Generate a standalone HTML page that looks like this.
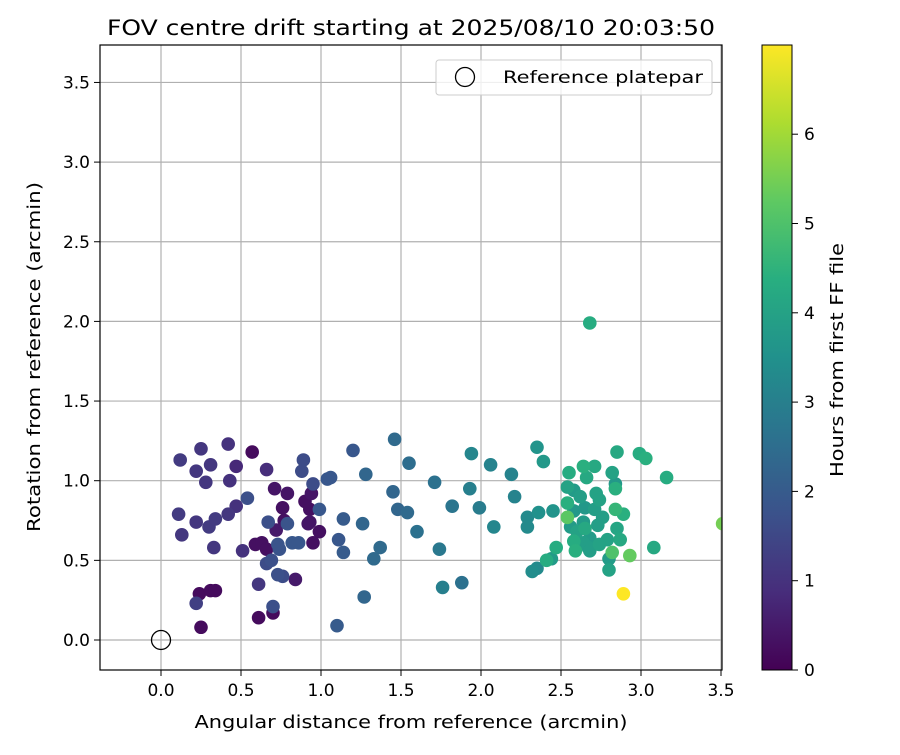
<!DOCTYPE html>
<html><head><meta charset="utf-8"><style>
body{margin:0;background:#fff;}
svg text{font-family:"DejaVu Sans","Liberation Sans",sans-serif;}
</style></head><body>
<svg id="chart" width="900" height="750" xmlns="http://www.w3.org/2000/svg">
<defs><linearGradient id="vir" x1="0" y1="1" x2="0" y2="0">
<stop offset="0" stop-color="#440154"/><stop offset="0.125" stop-color="#472d7b"/><stop offset="0.25" stop-color="#3b528b"/><stop offset="0.375" stop-color="#2c728e"/><stop offset="0.5" stop-color="#21918c"/><stop offset="0.625" stop-color="#28ae80"/><stop offset="0.75" stop-color="#5ec962"/><stop offset="0.875" stop-color="#addc30"/><stop offset="1" stop-color="#fde725"/></linearGradient>
<clipPath id="pc"><rect x="100" y="45" width="622" height="625"/></clipPath></defs>
<text x="411" y="35" font-size="21" text-anchor="middle" textLength="608" lengthAdjust="spacingAndGlyphs">FOV centre drift starting at 2025/08/10 20:03:50</text>
<g id="grid"></g>
<g id="pts" clip-path="url(#pc)"></g>
<circle cx="161" cy="640" r="9.5" fill="none" stroke="#000" stroke-width="1.3"/>
<rect x="100" y="45" width="622" height="625" fill="none" stroke="#000" stroke-width="1.2"/>
<g id="ticks"></g>
<text x="411" y="728" font-size="18" text-anchor="middle" textLength="433" lengthAdjust="spacingAndGlyphs">Angular distance from reference (arcmin)</text>
<text transform="translate(40,357) rotate(-90)" font-size="18" text-anchor="middle" textLength="350" lengthAdjust="spacingAndGlyphs">Rotation from reference (arcmin)</text>
<g>
<rect x="436" y="60" width="276" height="35" rx="3" fill="#fff" fill-opacity="0.8" stroke="#ccc"/>
<circle cx="465" cy="77" r="9.5" fill="none" stroke="#000" stroke-width="1.3"/>
<text x="503" y="83" font-size="17" textLength="200" lengthAdjust="spacingAndGlyphs">Reference platepar</text>
</g>
<rect x="762" y="45" width="30" height="625" fill="url(#vir)" stroke="#000" stroke-width="1"/>
<g id="cticks"></g>
<text transform="translate(843,360) rotate(-90)" font-size="18" text-anchor="middle" textLength="234" lengthAdjust="spacingAndGlyphs">Hours from first FF file</text>
</svg>
<script>
const xTicks=[0,0.5,1,1.5,2,2.5,3,3.5];
const yTicks=[0,0.5,1,1.5,2,2.5,3,3.5];
const cTicks=[0,1,2,3,4,5,6];
const xs=[0.12,0.25,0.42,0.57,0.22,0.31,0.47,0.28,0.43,0.66,0.89,0.88,0.71,0.79,0.95,1.04,0.11,0.22,0.30,0.34,0.42,0.47,0.54,0.13,0.33,0.51,0.59,0.63,0.66,0.67,0.72,0.77,0.76,0.94,0.90,0.93,0.93,0.99,0.95,0.99,0.82,0.86,0.73,0.69,0.66,0.73,0.76,0.84,0.61,0.24,0.31,0.34,0.22,0.25,0.61,0.70,0.70,1.11,1.14,1.14,1.10,1.20,1.06,0.79,0.74,0.92,
1.46,1.28,1.55,1.45,1.48,1.54,1.26,1.60,1.71,1.37,1.33,1.74,1.27,1.76,1.88,1.82,1.94,1.93,1.99,2.08,2.06,2.19,2.21,2.29,2.29,2.36,2.35,2.39,2.32,2.35,
2.85,2.99,3.03,3.16,2.55,2.64,2.71,2.66,2.82,2.84,2.84,2.54,2.58,2.62,2.72,2.74,2.54,2.58,2.65,2.71,2.84,2.89,2.54,2.45,2.76,2.56,2.60,2.64,2.65,2.73,2.85,2.68,2.58,2.79,2.87,2.64,2.67,2.74,2.59,2.68,2.82,2.93,3.08,2.80,2.80,2.47,2.44,2.41,2.89,3.51,2.68];
const ys=[1.13,1.20,1.23,1.18,1.06,1.10,1.09,0.99,1.00,1.07,1.13,1.06,0.95,0.92,0.98,1.01,0.79,0.74,0.71,0.76,0.79,0.84,0.89,0.66,0.58,0.56,0.60,0.61,0.57,0.74,0.69,0.75,0.83,0.92,0.87,0.82,0.74,0.68,0.61,0.82,0.61,0.61,0.60,0.50,0.48,0.41,0.40,0.38,0.35,0.29,0.31,0.31,0.23,0.08,0.14,0.17,0.21,0.63,0.55,0.76,0.09,1.19,1.02,0.73,0.57,0.73,
1.26,1.04,1.11,0.93,0.82,0.80,0.73,0.68,0.99,0.58,0.51,0.57,0.27,0.33,0.36,0.84,1.17,0.95,0.83,0.71,1.10,1.04,0.90,0.77,0.71,0.80,1.21,1.12,0.43,0.45,
1.18,1.17,1.14,1.02,1.05,1.09,1.09,1.02,1.05,0.98,0.95,0.96,0.94,0.90,0.92,0.88,0.86,0.81,0.83,0.82,0.82,0.79,0.77,0.81,0.77,0.71,0.68,0.74,0.70,0.72,0.70,0.64,0.62,0.63,0.63,0.61,0.58,0.60,0.56,0.56,0.55,0.53,0.58,0.51,0.44,0.58,0.51,0.50,0.29,0.73,1.99];
const hs=[1.2,1.1,1.0,0.2,1.1,1.1,0.8,1.1,1.0,0.9,1.6,1.6,0.4,0.4,1.6,1.9,1.2,1.1,1.2,1.2,1.1,1.0,1.7,1.1,1.1,1.0,0.3,0.3,0.3,1.7,0.5,0.3,0.3,0.4,0.3,0.3,0.4,0.3,0.3,1.9,1.9,1.9,1.8,1.7,1.6,1.7,1.6,0.5,1.1,0.2,0.2,0.2,1.3,0.2,0.2,0.2,1.7,1.9,2.0,2.0,2.0,1.9,1.9,1.8,1.8,0.4,
2.4,2.3,2.5,2.3,2.3,2.4,2.3,2.6,2.6,2.4,2.4,2.8,2.3,3.0,2.6,2.7,3.2,3.0,2.9,3.2,3.1,3.1,3.1,3.3,3.3,3.5,3.6,3.7,3.4,3.3,
4.2,4.3,4.4,4.3,4.3,4.4,4.2,4.2,4.0,3.7,4.4,4.0,3.8,3.9,4.0,4.0,4.4,3.7,3.7,3.9,4.6,4.4,5.2,3.6,3.9,3.8,4.0,3.8,4.2,3.9,4.1,3.8,4.3,4.0,4.2,3.9,3.9,4.0,4.4,3.9,5.0,5.3,4.2,3.8,4.0,4.3,3.8,4.3,7.0,5.5,4.3];
const X=v=>161+v*160, Y=v=>640-v*159.3, C=h=>670-h*89.3;
const stops=[[68,1,84],[71,45,123],[59,82,139],[44,114,142],[33,145,140],[40,174,128],[94,201,98],[173,220,48],[253,231,37]];
function vir(h){let t=Math.max(0,Math.min(1,h/7.0))*8,i=Math.min(7,Math.floor(t)),f=t-i,a=stops[i],b=stops[i+1];
return 'rgb('+a.map((v,k)=>Math.round(v+(b[k]-v)*f)).join(',')+')';}
const NS='http://www.w3.org/2000/svg';
function mk(t,at,p){const e=document.createElementNS(NS,t);for(const k in at)e.setAttribute(k,at[k]);p.appendChild(e);return e;}
const g=document.getElementById('grid'),tk=document.getElementById('ticks');
xTicks.forEach(v=>{const l=mk('line',{x1:X(v),x2:X(v),y1:45,y2:670,stroke:'#b0b0b0','stroke-width':1.2},g);

mk('line',{x1:X(v),x2:X(v),y1:670,y2:676,stroke:'#000'},tk);
const t=mk('text',{x:X(v),y:696,'font-size':17,'text-anchor':'middle'},tk);t.textContent=v.toFixed(1);
});
yTicks.forEach(v=>{const l=mk('line',{x1:100,x2:722,y1:Y(v),y2:Y(v),stroke:'#b0b0b0','stroke-width':1.2},g);

mk('line',{x1:94,x2:100,y1:Y(v),y2:Y(v),stroke:'#000'},tk);
const t=mk('text',{x:90,y:Y(v)+6,'font-size':17,'text-anchor':'end'},tk);t.textContent=v.toFixed(1);
});
const ct=document.getElementById('cticks');
cTicks.forEach(v=>{mk('line',{x1:792,x2:798,y1:C(v),y2:C(v),stroke:'#000'},ct);
const t=mk('text',{x:804,y:C(v)+6,'font-size':17},ct);t.textContent=v;
});
const pg=document.getElementById('pts');
const order=xs.map((_,i)=>i).sort((a,b)=>hs[a]-hs[b]);
order.forEach(i=>{const c=mk('circle',{cx:X(xs[i]),cy:Y(ys[i]),r:6.8,fill:vir(hs[i])},pg);
});
</script>
</body></html>
